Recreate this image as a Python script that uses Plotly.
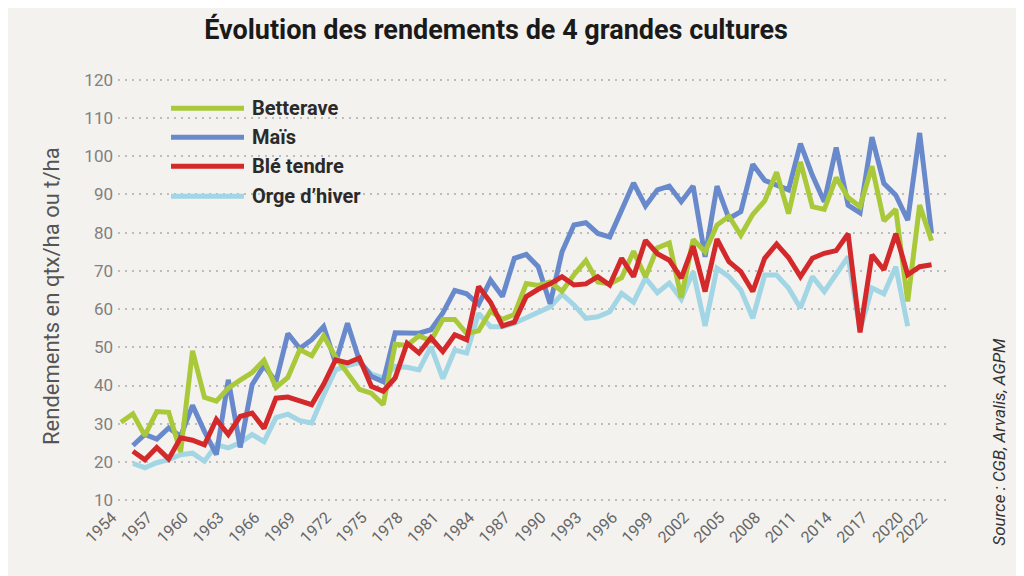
import plotly.graph_objects as go

years = list(range(1954, 2023))

betterave = [30.4, 32.6, 26.9, 33.2, 33.0, 22.6, 49.1, 36.9, 35.9, 39.3, 41.4, 43.4, 46.6, 39.5, 42.1,
             49.4, 47.8, 53.0, 47.5, 43.0, 39.0, 38.0, 35.0, 50.8, 50.5, 53.0, 51.7, 57.3, 57.3, 53.6,
             54.3, 59.5, 57.3, 58.6, 66.7, 66.2, 67.1, 64.7, 69.0, 72.7, 67.1, 66.6, 68.2, 75.1, 68.4,
             76.0, 77.3, 63.0, 78.2, 75.0, 82.0, 84.3, 79.3, 84.8, 88.3, 95.8, 85.0, 98.5, 86.8, 86.1,
             94.4, 89.2, 86.8, 97.4, 83.1, 86.1, 62.0, 87.2, 77.9]

mais = [None, 24.3, 27.2, 26.0, 28.9, 26.7, 34.8, 28.0, 21.9, 41.5, 23.8, 40.2, 45.2, 41.0, 53.6,
        49.7, 52.0, 55.4, 46.0, 56.3, 46.5, 42.4, 41.0, 53.8, 53.7, 53.7, 54.6, 59.0, 64.9, 64.0,
        61.2, 67.6, 63.3, 73.3, 74.3, 71.1, 61.4, 75.0, 82.0, 82.6, 79.8, 78.9, 85.9, 93.0, 87.0,
        91.2, 92.2, 88.1, 92.2, 73.7, 92.2, 83.7, 85.5, 97.9, 93.7, 92.4, 91.2, 103.3, 95.0, 88.1,
        102.3, 87.2, 85.2, 105.0, 92.9, 89.8, 83.3, 106.1, 79.8]

ble_tendre = [None, 22.8, 20.6, 23.8, 20.8, 26.3, 25.7, 24.5, 31.1, 27.2, 31.9, 32.8, 28.8, 36.7, 37.0,
              36.0, 35.0, 40.3, 46.7, 45.9, 47.2, 39.8, 38.5, 42.0, 51.1, 48.5, 52.5, 48.9, 53.3, 52.0,
              65.9, 61.8, 55.6, 56.6, 63.3, 65.2, 66.6, 68.5, 66.3, 66.6, 68.5, 66.3, 73.3, 68.5, 78.0,
              74.5, 72.8, 68.1, 76.5, 64.6, 78.3, 72.4, 69.8, 64.6, 73.3, 77.0, 73.5, 68.5, 73.3, 74.6,
              75.3, 79.7, 53.9, 74.2, 70.3, 79.7, 69.0, 71.1, 71.6]

orge_hiver = [None, 19.6, 18.5, 19.8, 20.6, 21.9, 22.3, 20.2, 24.5, 23.7, 25.0, 27.2, 25.3, 31.6, 32.5,
              30.8, 30.2, 37.5, 44.1, 45.2, 46.0, 43.0, 42.0, 45.0, 44.8, 44.1, 50.2, 41.8, 49.3, 48.5,
              58.9, 55.4, 55.4, 56.3, 57.8, 59.3, 60.6, 63.9, 61.1, 57.6, 58.0, 59.3, 64.1, 61.8, 68.1,
              64.3, 66.8, 62.6, 69.8, 55.6, 70.7, 68.5, 65.0, 57.6, 68.9, 68.9, 65.5, 60.3, 68.5, 64.6,
              69.4, 73.7, 54.5, 65.5, 64.0, 71.1, 55.5, None, None]

series_names = ["Betterave", "Maïs", "Blé tendre", "Orge d\u2019hiver"]
series_colors = ["#a9c93b", "#6889cc", "#d3292b", "#a2d6e4"]

x_tick_vals = list(range(1954, 2021, 3)) + [2022]
x_tick_text = [str(v) for v in x_tick_vals]
y_tick_vals = list(range(10, 121, 10))

# layout geometry (screen pixels; page body has an 8px margin)
W, H = 1024, 576
OFF = 8
L, R, T, B = 118 - OFF, 948 - OFF, 75.6 - OFF, 504.5 - OFF
px_per_year = 11.92
x_first = 121 - OFF
x0 = 1954 - (x_first - L) / px_per_year
x1 = 1954 + (R - x_first) / px_per_year


def px_x(p):
    return (p - OFF - L) / (R - L)


def px_y(p):
    return (B - (p - OFF)) / (B - T)


fig = go.Figure()
data_map = {"Betterave": betterave, "Maïs": mais, "Blé tendre": ble_tendre, "Orge d\u2019hiver": orge_hiver}
draw_order = [3, 1, 0, 2]
for i in draw_order:
    name = series_names[i]
    fig.add_trace(go.Scatter(
        x=years, y=data_map[name], mode="lines", name=name,
        line=dict(color=series_colors[i], width=5),
        connectgaps=False, showlegend=False, cliponaxis=False,
    ))

grid = dict(showgrid=True, gridcolor="#bdbdbd", gridwidth=2, griddash="2px,5px")

fig.update_layout(
    width=W, height=H, autosize=False,
    paper_bgcolor="#f4f2ee", plot_bgcolor="#f4f2ee",
    margin=dict(l=L, r=W - R, t=T, b=H - B, pad=0),
    title=dict(text="<b>Évolution des rendements de 4 grandes cultures</b>",
               x=(496 - OFF) / W, xanchor="center", xref="container",
               y=1 - (30 - OFF) / H, yanchor="middle", yref="container",
               font=dict(family="Roboto", size=27, color="#1a1a1a")),
    xaxis=dict(range=[x0, x1], tickmode="array", tickvals=x_tick_vals, ticktext=x_tick_text,
               tickangle=-45, showgrid=False, zeroline=False, showline=False, ticks="",
               ticklabelshift=-9,
               tickfont=dict(family="Roboto", size=16, color="#666666")),
    yaxis=dict(range=[9, 121], tickmode="array", tickvals=y_tick_vals, zeroline=False,
               showline=False, ticks="", ticklabelstandoff=4,
               tickfont=dict(family="Roboto", size=17, color="#808080"), **grid),
    showlegend=False,
)

# manual legend (long line samples)
legend_y = [108, 137, 166, 196]
shapes = []
annotations = []
for i, name in enumerate(series_names):
    yy = px_y(legend_y[i])
    shapes.append(dict(type="line", xref="paper", yref="paper", x0=px_x(171), x1=px_x(244),
                       y0=yy, y1=yy, line=dict(color=series_colors[i], width=5)))
    annotations.append(dict(text="<b>" + name + "</b>", xref="paper", yref="paper", x=px_x(250), y=yy,
                            xanchor="left", yanchor="middle", showarrow=False,
                            font=dict(family="Roboto", size=20, color="#2a2a2a")))

annotations.append(dict(text="Rendements en qtx/ha ou t/ha", xref="paper", yref="paper",
                        x=px_x(52), y=px_y(296), textangle=-90, showarrow=False,
                        xanchor="center", yanchor="middle",
                        font=dict(family="Roboto", size=22, color="#555555")))
annotations.append(dict(text="<i>Source : CGB, Arvalis, AGPM</i>", xref="paper", yref="paper",
                        x=px_x(999), y=px_y(442), textangle=-90, showarrow=False,
                        xanchor="center", yanchor="middle",
                        font=dict(family="Roboto", size=17, color="#333333")))

fig.update_layout(shapes=shapes, annotations=annotations)
fig.write_html("out.html")
